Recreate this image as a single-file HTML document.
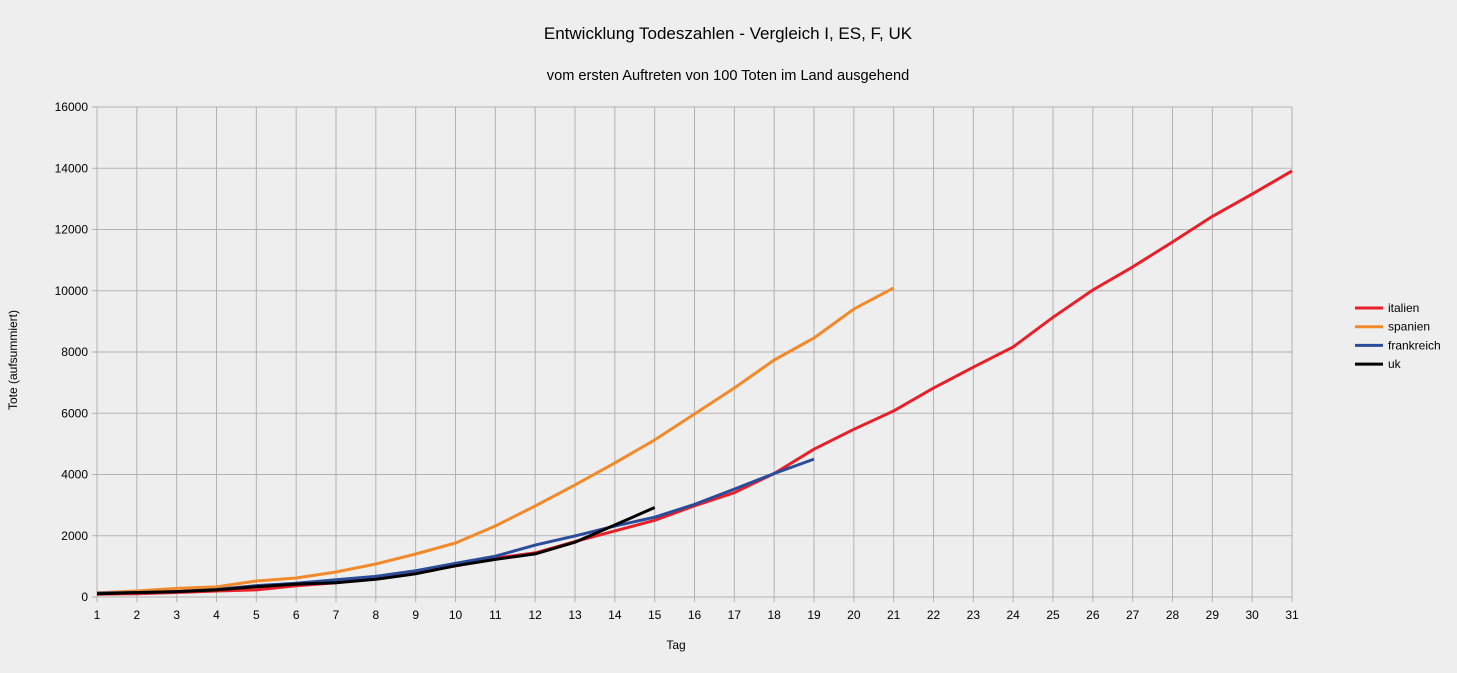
<!DOCTYPE html>
<html><head><meta charset="utf-8"><style>
html,body{margin:0;padding:0;background:#eeeeee;}
svg{display:block;font-family:"Liberation Sans",sans-serif;}
</style></head><body>
<svg id="chart" width="1457" height="673">
<rect x="0" y="0" width="1457" height="673" fill="#eeeeee"/>
<text x="728" y="39" font-size="17" text-anchor="middle" fill="#000">Entwicklung Todeszahlen - Vergleich I, ES, F, UK</text>
<text x="728" y="80" font-size="14.6" text-anchor="middle" fill="#000">vom ersten Auftreten von 100 Toten im Land ausgehend</text>
<text x="676" y="649" font-size="12" text-anchor="middle" fill="#000">Tag</text>
<text x="17" y="360" font-size="12" text-anchor="middle" fill="#000" transform="rotate(-90 17 360)">Tote (aufsummiert)</text>
<g id="grid"></g><g id="series"></g><g id="legend"></g>
</svg>
<script>
const days = [1,2,3,4,5,6,7,8,9,10,11,12,13,14,15,16,17,18,19,20,21,22,23,24,25,26,27,28,29,30,31];
const yTicks = [0,2000,4000,6000,8000,10000,12000,14000,16000];
const italien = [90,107,148,197,233,366,463,631,827,1016,1266,1441,1809,2158,2503,2978,3405,4032,4825,5476,6077,6820,7503,8165,9134,10023,10779,11591,12428,13155,13915];
const spanien = [133,195,280,330,522,620,816,1078,1404,1763,2318,2970,3660,4375,5130,5975,6825,7740,8457,9400,10090];
const frankreich = [127,148,175,244,372,450,562,674,860,1100,1331,1696,1995,2314,2606,3024,3523,4032,4503];
const uk = [104,144,177,233,335,422,465,578,759,1019,1228,1408,1789,2352,2921];
const seriesNames = ["italien","spanien","frankreich","uk"];
const seriesColors = ["#e8202a","#f28a2c","#2a4c9a","#000000"];
</script>
<script>
const NS="http://www.w3.org/2000/svg";
const X0=97,X1=1292,Y0=597,Y1=107;
function xs(d){return X0+(d-1)*(X1-X0)/30;}
function ys(v){return Y0-v*(Y0-Y1)/16000;}
function mk(tag,attrs,parent){const e=document.createElementNS(NS,tag);for(const k in attrs)e.setAttribute(k,attrs[k]);parent.appendChild(e);return e;}
const grid=document.getElementById('grid');
yTicks.forEach(t=>{
  const l=mk('line',{x1:X0-5,x2:X1,y1:ys(t),y2:ys(t),stroke:'#b3b3b3','stroke-width':1},grid);
  
  
  const tx=mk('text',{x:X0-9,y:ys(t)+4,'font-size':12,'text-anchor':'end',fill:'#000'},grid);
  tx.textContent=t;
  
  
});
days.forEach(d=>{
  const l=mk('line',{x1:xs(d),x2:xs(d),y1:Y1,y2:Y0+5,stroke:'#b3b3b3','stroke-width':1},grid);
  
  
  const tx=mk('text',{x:xs(d),y:Y0+22,'font-size':12,'text-anchor':'middle',fill:'#000'},grid);
  tx.textContent=d;
  
  
});
const data=[italien,spanien,frankreich,uk];
const sg=document.getElementById('series');
data.forEach((arr,i)=>{
  const pts=arr.map((v,j)=>xs(j+1).toFixed(1)+','+ys(v).toFixed(1)).join(' ');
  const p=mk('polyline',{points:pts,fill:'none',stroke:seriesColors[i],'stroke-width':3,'stroke-linejoin':'round'},sg);
  
  
});
const lg=document.getElementById('legend');
seriesNames.forEach((n,i)=>{
  const y=308+i*18.7;
  const g=mk('g',{},lg);
  
  
  mk('line',{x1:1355,x2:1383,y1:y,y2:y,stroke:seriesColors[i],'stroke-width':3},g);
  const t=mk('text',{x:1388,y:y+4,'font-size':12,fill:'#000'},g);
  t.textContent=n;
});
</script>
</body></html>
